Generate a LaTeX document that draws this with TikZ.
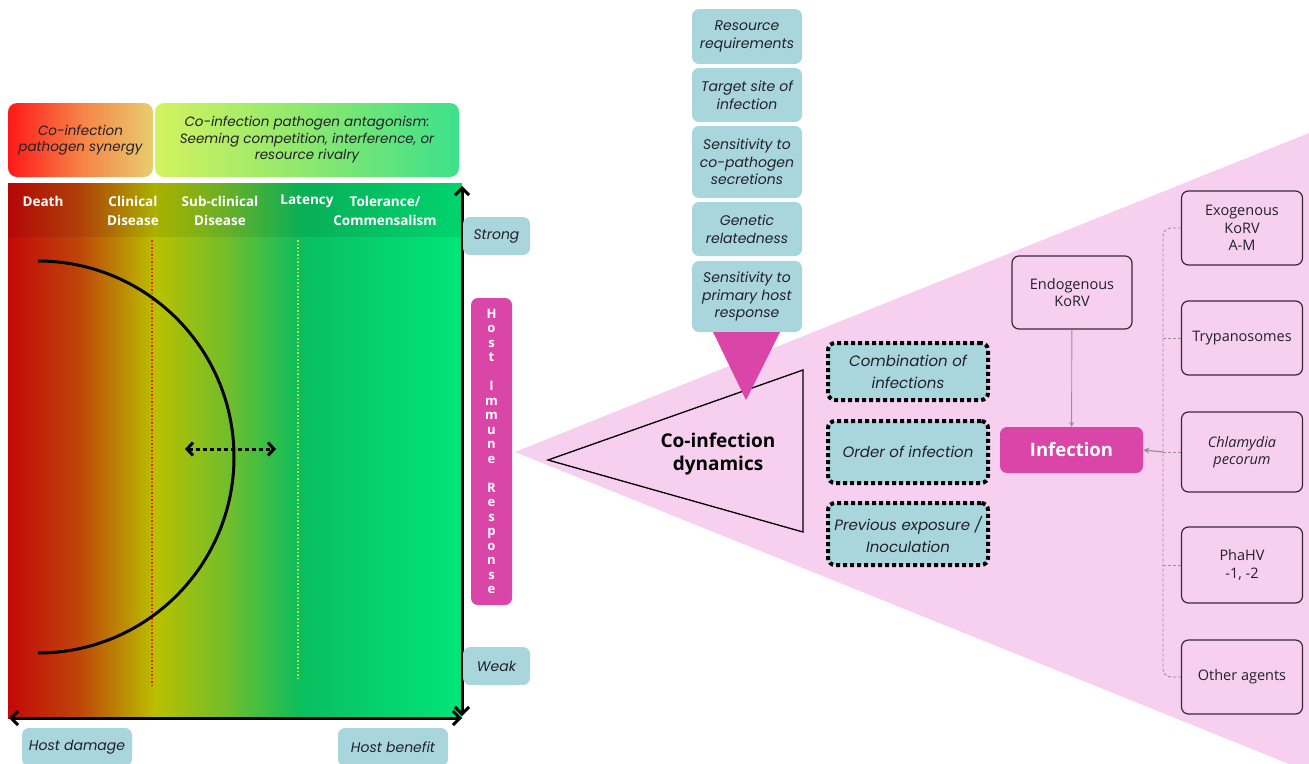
\documentclass[tikz,border=0pt]{standalone}
\usepackage{fontspec}
\setmainfont{Open Sans}
\newfontfamily\popfont{Poppins}
\usetikzlibrary{arrows.meta}

\definecolor{pinkbg}{RGB}{247,208,240}
\definecolor{magc}{RGB}{217,70,168}
\definecolor{tealc}{RGB}{168,214,220}
\definecolor{inkc}{RGB}{35,32,42}
\definecolor{boxc}{RGB}{55,40,55}
\definecolor{brkc}{RGB}{150,145,150}
% panel colours
\definecolor{pa}{RGB}{196,8,8}
\definecolor{pb}{RGB}{190,70,10}
\definecolor{pc}{RGB}{186,192,0}
\definecolor{pd}{RGB}{110,190,45}
\definecolor{pe}{RGB}{10,190,95}
\definecolor{pf}{RGB}{0,230,120}
\definecolor{sa}{RGB}{255,25,25}
\definecolor{sb}{RGB}{246,130,70}
\definecolor{sc}{RGB}{232,205,110}
\definecolor{ta}{RGB}{212,242,95}
\definecolor{tb}{RGB}{140,232,110}
\definecolor{tc}{RGB}{60,224,140}

\pgfdeclarehorizontalshading{hostshade}{100bp}{color(0bp)=(pa); color(25bp)=(pa);
  color(32.9bp)=(pb); color(41.2bp)=(pc); color(49.4bp)=(pd); color(57.2bp)=(pe);
  color(75bp)=(pf); color(100bp)=(pf)}
\pgfdeclarehorizontalshading{synshade}{100bp}{color(0bp)=(sa); color(25bp)=(sa);
  color(50bp)=(sb); color(75bp)=(sc); color(100bp)=(sc)}
\pgfdeclarehorizontalshading{antshade}{100bp}{color(0bp)=(ta); color(25bp)=(ta);
  color(50bp)=(tb); color(75bp)=(tc); color(100bp)=(tc)}

\tikzset{
  hdr/.style={text=white, font=\bfseries\fontsize{13.5}{19}\selectfont, align=center},
  topbox/.style={rounded corners=9pt, align=center, text=inkc,
    font=\popfont\itshape\fontsize{13.5}{16.5}\selectfont},
  tealbox/.style={fill=tealc, rounded corners=7pt, align=center, text=inkc,
    font=\popfont\itshape\fontsize{14}{17.5}\selectfont},
  dotbox/.style={tealbox, draw=black, line width=4pt, dash pattern=on 4pt off 3pt,
    minimum width=160pt, font=\popfont\itshape\fontsize{15}{22}\selectfont},
  agent/.style={draw=boxc, line width=1.2pt, fill=pinkbg, rounded corners=7pt,
    minimum width=121pt, align=center, text=inkc, font=\fontsize{14.5}{17.5}\selectfont},
  magbox/.style={fill=magc, rounded corners=7pt, text=white, align=center},
  axis/.style={line width=3pt, {Straight Barb[length=7pt,width=14pt]}-{Straight Barb[length=7pt,width=14pt]}},
  brk/.style={draw=brkc, line width=0.9pt, dash pattern=on 3pt off 2pt}
}

\begin{document}
\begin{tikzpicture}[x=1pt,y=-1pt]
  \clip (0,0) rectangle (1309,763);

  % pink wedge
  \fill[pinkbg] (515,452) -- (1309,133) -- (1309,772) -- cycle;

  % host outcome panel
  \fill[shading=hostshade] (8,183) rectangle (462,718);
  \fill[black,opacity=0.08] (8,183) rectangle (462,237);
  \node[topbox, shading=synshade, minimum width=145pt, minimum height=74pt] (syn) at (80.5,140)
    {Co-infection\\pathogen synergy};
  \node[topbox, shading=antshade, minimum width=304pt, minimum height=74pt] (ant) at (307,140)
    {Co-infection pathogen antagonism:\\Seeming competition, interference, or\\resource rivalry};

  \node[hdr] (death) at (43,201) {Death};
  \node[hdr] (clin) at (133,211) {Clinical\\Disease};
  \node[hdr] (sub) at (220,211) {Sub-clinical\\Disease};
  \node[hdr] (lat) at (307,201) {Latency};
  \node[hdr] (tol) at (385,211) {Tolerance/\\Commensalism};

  \draw[red!80!orange, line width=1.5pt, dotted] (152,240) -- (152,685);
  \draw[yellow!70!green!80!white, line width=1.5pt, dotted] (298,240) -- (298,680);

  \draw[line width=3pt] (38,261) arc[start angle=-90, end angle=90, radius=196];
  \draw[line width=3pt, dash pattern=on 4pt off 3pt,
    {Straight Barb[length=6pt,width=13pt]}-{Straight Barb[length=6pt,width=13pt]}] (185,449) -- (276,449);

  % axes
  \coordinate (ytop) at (462,186);
  \coordinate (ybot) at (462,716);
  \coordinate (xl) at (9,718);
  \coordinate (xr) at (462,718);
  \draw[axis] (ytop) -- (ybot);
  \draw[axis] (xl) -- (xr);

  \node[tealbox, minimum width=67pt, minimum height=38pt] (strong) at (496.5,236) {Strong};
  \node[tealbox, minimum width=67pt, minimum height=38pt] (weak) at (496.5,666) {Weak};
  \node[tealbox, minimum width=110pt, minimum height=38pt] (dmg) at (77,747) {Host damage};
  \node[tealbox, minimum width=110pt, minimum height=38pt] (ben) at (393,747) {Host benefit};

  \node[magbox, minimum width=41pt, minimum height=307pt,
    font=\bfseries\fontsize{13}{14.5}\selectfont] (hir) at (491.5,451.5)
    {H\\o\\s\\t\\[14.5pt]I\\m\\m\\u\\n\\e\\[14.5pt]R\\e\\s\\p\\o\\n\\s\\e};

  % pathogen traits
  \node[tealbox, minimum width=110pt, minimum height=55pt] (res) at (747,36.5) {Resource\\requirements};
  \node[tealbox, minimum width=110pt, minimum height=54pt] (tgt) at (747,95) {Target site of\\infection};
  \node[tealbox, minimum width=110pt, minimum height=72pt] (sec) at (747,162) {Sensitivity to\\co-pathogen\\secretions};
  \node[tealbox, minimum width=110pt, minimum height=54pt] (gen) at (747,229) {Genetic\\relatedness};
  \node[tealbox, minimum width=110pt, minimum height=71pt] (prim) at (747,296.5) {Sensitivity to\\primary host\\response};

  % co-infection dynamics
  \draw[line width=1.3pt, fill=pinkbg] (548,460) -- (803,370) -- (803,532) -- cycle;
  \fill[magc] (713,332) -- (780,332) -- (746,400) -- cycle;
  \node[font=\bfseries\fontsize{19}{23}\selectfont, align=center, text=black] (dyn) at (718,454)
    {Co-infection\\dynamics};

  \node[dotbox, minimum height=57pt] (comb) at (908,371.5) {Combination of\\infections};
  \node[dotbox, minimum height=62pt] (ord) at (908,452) {Order of infection};
  \node[dotbox, minimum height=62pt] (prev) at (908,534) {Previous exposure /\\Inoculation};

  % agents
  \node[agent, minimum width=120pt, minimum height=73pt] (endo) at (1072,292.5) {Endogenous\\KoRV};
  \node[magbox, minimum width=143pt, minimum height=46pt,
    font=\bfseries\fontsize{18.5}{22}\selectfont] (inf) at (1071.5,450) {Infection};
  \draw[brkc, line width=0.9pt, -{Stealth[length=5pt,width=5pt]}] (endo) -- (inf);

  \node[agent, minimum height=74pt] (exo) at (1242,228) {Exogenous\\KoRV\\A-M};
  \node[agent, minimum height=74pt] (tryp) at (1242,338) {Trypanosomes};
  \node[agent, minimum height=80pt] (chla) at (1242,452) {\itshape Chlamydia\\\itshape pecorum};
  \node[agent, minimum height=76pt] (pha) at (1242,565) {PhaHV\\-1, -2};
  \node[agent, minimum height=74pt] (other) at (1242,677) {Other agents};

  \coordinate (brc) at (1163,452);
  \draw[brk, rounded corners=8pt] (exo.west) -| (brc) |- (other.west);
  \draw[brk] (tryp.west) -- (tryp.west -| brc);
  \draw[brk] (chla.west) -- (brc);
  \draw[brk] (pha.west) -- (pha.west -| brc);
  \draw[brkc, line width=1.2pt, -{Stealth[length=6pt,width=6pt]}] (brc) -- (inf.east);
\end{tikzpicture}
\end{document}
